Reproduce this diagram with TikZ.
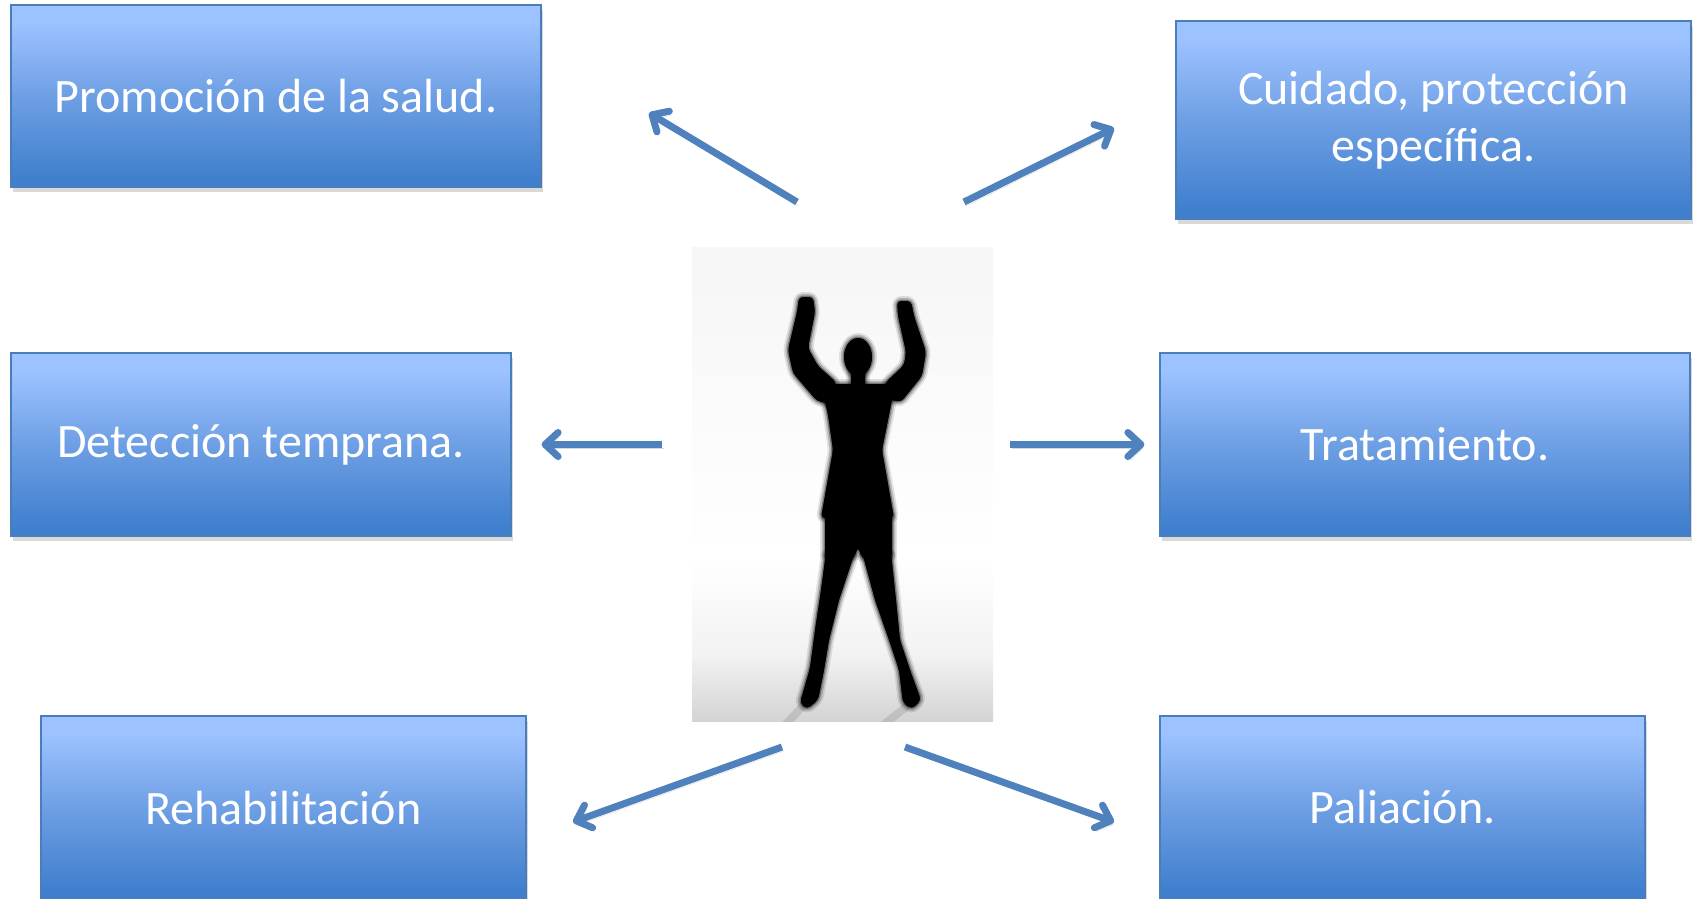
\documentclass[tikz,border=0pt]{standalone}
\usepackage{fontspec}
\setmainfont{Carlito}
\usepackage{tikz}
\usetikzlibrary{positioning, arrows.meta, shadows, calc}
\definecolor{boxlight}{HTML}{9CC2FF}
\definecolor{boxmid}{HTML}{6E9FE4}
\definecolor{boxdark}{HTML}{3F7FCD}
\definecolor{boxline}{HTML}{4A7EBB}
\definecolor{arrowblue}{HTML}{4F81BD}
\pgfdeclareverticalshading{boxshade}{100bp}{color(0bp)=(boxdark); color(27bp)=(boxdark); color(50bp)=(boxmid); color(70bp)=(boxlight); color(100bp)=(boxlight)}
\pgfdeclareverticalshading{photoshade}{100bp}{color(0bp)=(black!17); color(25bp)=(black!17); color(32bp)=(black!5); color(42bp)=(white); color(70bp)=(black!3); color(100bp)=(black!3)}
\tikzset{
    x=1pt, y=-1pt, % one unit is one pixel of the page
    every box/.style={ % blue boxes round the figure
        draw=boxline,
        line width=1.2pt,
        shading=boxshade,
        text=white,
        font=\fontsize{48}{57}\selectfont,
        align=center,
        inner sep=0pt,
        drop shadow={shadow xshift=2pt, shadow yshift=-5pt, opacity=0.3}
    },
    arr/.style={ % the six arrows
        draw=arrowblue,
        line width=7pt,
        -{Straight Barb[length=13pt, width=24pt, line cap=round, line join=round]},
        preaction={draw=black, opacity=0.15, transform canvas={shift={(2pt,-4pt)}}}
    },
    body/.style={fill=black, rounded corners=4pt}
}
% the silhouette, drawn as a few filled pieces
\newcommand{\personpaths}[1]{%
    \path[#1] (799,297) -- (813,297) -- (815,312) -- (808,348) -- (818,366) -- (836,382) -- (831,404) -- (817,401) -- (793,373) -- (788,350) -- (797,312) -- cycle;
    \path[#1] (897,301) -- (911,301) -- (914,316) -- (926,352) -- (922,376) -- (901,402) -- (882,398) -- (886,382) -- (904,365) -- (906,352) -- (898,316) -- cycle;
    \path[#1] (858,357) ellipse[x radius=14, y radius=19];
    \path[#1] (851,365) rectangle (865,388);
    \path[#1] (821,384) -- (895,384) -- (889,415) -- (882,450) -- (894,518) -- (821,518) -- (833,450) -- (828,415) -- cycle;
    \path[#1] (825,515) -- (892,515) -- (892,558) -- (862,558) -- (858,547) -- (854,558) -- (825,558) -- cycle;
    \path[#1] (826,552) -- (855,552) -- (839,600) -- (829,640) -- (824,670) -- (818,700) -- (807,709) -- (800,703) -- (810,668) -- (815,630) -- (821,590) -- cycle;
    \path[#1] (862,552) -- (891,552) -- (896,600) -- (900,640) -- (910,670) -- (921,700) -- (912,709) -- (903,703) -- (899,670) -- (889,640) -- (875,600) -- cycle;
}

\begin{document}
\begin{tikzpicture}
    \useasboundingbox (0,0) rectangle (1696,898);

    % photo in the middle
    \node[shading=photoshade, minimum width=301pt, minimum height=474pt, inner sep=0pt] (photo) at (842.5,484) {};
    \begin{scope}
        \clip (photo.north west) rectangle (photo.south east);
        \draw[black!45, line width=8pt, line cap=round, opacity=0.3] (803,706) -- (784,726) (906,707) -- (882,726);
        \foreach \w/\o in {10/0.1, 6.5/0.18, 3/0.35}{
            \personpaths{body, draw=black, line width=\w pt, line join=round, opacity=\o}
        }
        \personpaths{body}
    \end{scope}

    % the six boxes
    \node[every box, minimum width=530pt, minimum height=182pt] (promo) at (276,96) {Promoción de la salud.};
    \node[every box, minimum width=515pt, minimum height=198pt] (cuidado) at (1433.5,120) {Cuidado, protección\\específica.};
    \node[every box, minimum width=500pt, minimum height=183pt] (deteccion) at (261,444.5) {Detección temprana.};
    \node[every box, minimum width=530pt, minimum height=183pt] (trata) at (1425,444.5) {Tratamiento.};
    \node[every box, minimum width=485pt, minimum height=183pt] (rehab) at (283.5,807.5) {Rehabilitación};
    \node[every box, minimum width=485pt, minimum height=183pt] (palia) at (1402.5,807.5) {Paliación.};

    % arrow ends
    \coordinate (ulS) at (797,202);
    \coordinate (ulE) at (649,113);
    \coordinate (urS) at (964,202);
    \coordinate (urE) at (1114,128);
    \coordinate (dlS) at (782,747);
    \coordinate (dlE) at (573,822);
    \coordinate (drS) at (905,747);
    \coordinate (drE) at (1114,822);

    \draw[arr] (ulS) -- (ulE);
    \draw[arr] (urS) -- (urE);
    \draw[arr, shorten <=30pt, shorten >=30pt] (photo.west |- deteccion.east) -- (deteccion.east);
    \draw[arr, shorten <=17pt, shorten >=15pt] (photo.east |- trata.west) -- (trata.west);
    \draw[arr] (dlS) -- (dlE);
    \draw[arr] (drS) -- (drE);
\end{tikzpicture}
\end{document}
